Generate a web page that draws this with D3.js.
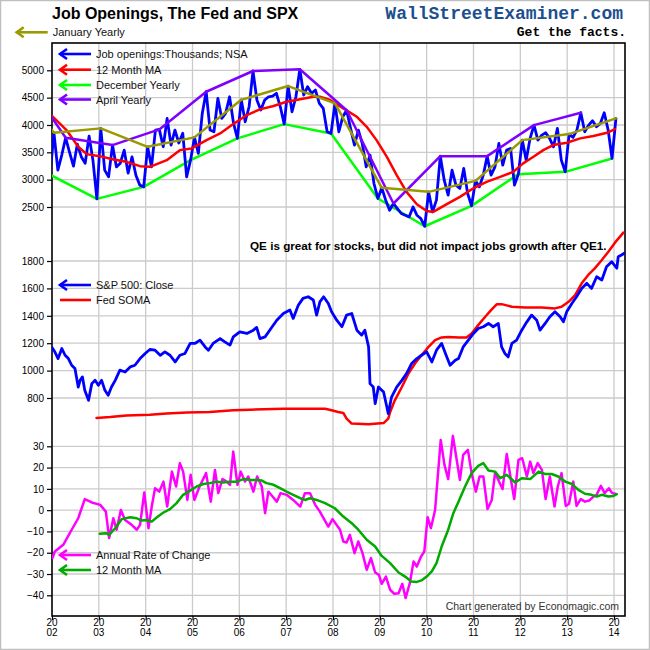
<!DOCTYPE html>
<html><head><meta charset="utf-8">
<script src="https://cdn.jsdelivr.net/npm/d3@7"></script>
<style>body{margin:0;background:#fff}svg{display:block}</style>
</head><body>
<svg id="c" width="650" height="650"></svg>
<script>
// ---------- DATA ----------
// Job openings, NSA, monthly starting Dec 2001
const jobStartYear = 2001, jobStartMonth = 12;
const jobOpenings = [3090,
 3857,3175,3450,3766,3500,3247,3650,3420,3300,3797,3350,2648,
 3938,3175,3051,3632,3234,3302,3540,3120,3418,3082,2900,2868,
 3601,3234,3907,3919,3601,4121,3632,3907,3670,3850,3051,3357,
 3773,3480,4212,4608,3907,3876,4487,4121,4218,4516,4035,3755,
 4460,4059,4333,4987,4456,4273,4456,4516,4529,4579,4333,4016,
 4712,4242,4516,5018,4548,4700,4579,4639,4396,4304,3876,3846,
 4396,3876,4150,4270,3938,3632,3907,3663,3234,3449,2930,2656,
 2850,2625,2441,2564,2472,2381,2350,2319,2502,2350,2289,2148,
 2777,2411,2625,3430,2991,2716,3175,2900,2839,3206,2747,2520,
 2978,2868,3082,3430,3082,3234,3663,3265,3540,3571,2900,3101,
 3723,3357,3755,3998,3723,3815,3857,3755,3601,3938,3357,3143,
 3833,3773,3907,4224,3876,3998,4077,3967,4029,4224,3907,3388,
 4121];
// 12 month MA (as read)
const maDates = [2001.96,2002.31,2002.56,2002.74,2003.02,2003.31,2003.59,2003.88,2004.09,2004.45,2004.73,2004.98,2005.30,2005.59,2005.87,2006.16,2006.44,2006.73,2007.01,2007.30,2007.58,2007.72,2007.94,2008.22,2008.51,2008.72,2008.93,2009.15,2009.36,2009.57,2009.79,2010.00,2010.14,2010.43,2010.71,2010.99,2011.28,2011.57,2011.85,2012.06,2012.28,2012.49,2012.70,2012.99,2013.28,2013.56,2013.85,2014.02];
const maValues = [4200,3907,3601,3467,3430,3370,3326,3247,3234,3357,3540,3571,3723,3846,4016,4181,4286,4346,4425,4469,4516,4516,4456,4304,4150,3967,3723,3418,3082,2777,2551,2428,2410,2551,2685,2839,2960,3051,3143,3297,3418,3540,3632,3674,3755,3797,3857,3925];
// Yearly series
const janYears = [2001,2002,2003,2004,2005,2006,2007,2008,2009,2010,2011,2012,2013,2014];
const janValues = [5030,3857,3938,3601,3773,4460,4712,4396,2850,2777,2978,3723,3833,4121];
const aprYears = [2001,2002,2003,2004,2005,2006,2007,2008,2009,2010,2011,2012,2013];
const aprValues = [5020,3766,3632,3919,4608,4987,5018,4270,2564,3430,3430,3998,4224];
const decYears = [2001,2002,2003,2004,2005,2006,2007,2008,2009,2010,2011,2012,2013];
const decValues = [3090,2648,2868,3357,3755,4016,3846,2656,2148,2520,3101,3143,3388];

// S&P 500 close
const spxDates = [2002.00,2002.06,2002.13,2002.21,2002.28,2002.35,2002.42,2002.49,2002.56,2002.60,2002.65,2002.70,2002.78,2002.85,2002.92,2002.99,2003.06,2003.13,2003.20,2003.27,2003.35,2003.45,2003.56,2003.67,2003.77,2003.88,2003.99,2004.09,2004.20,2004.31,2004.41,2004.52,2004.63,2004.73,2004.84,2004.95,2005.05,2005.16,2005.27,2005.34,2005.44,2005.59,2005.69,2005.80,2005.87,2006.01,2006.16,2006.30,2006.37,2006.44,2006.55,2006.66,2006.80,2006.94,2007.08,2007.15,2007.26,2007.36,2007.47,2007.58,2007.65,2007.72,2007.80,2007.90,2007.97,2008.08,2008.19,2008.29,2008.40,2008.51,2008.61,2008.68,2008.76,2008.79,2008.86,2008.90,2008.97,2009.08,2009.15,2009.18,2009.25,2009.36,2009.47,2009.57,2009.68,2009.79,2009.89,2010.00,2010.11,2010.21,2010.32,2010.43,2010.50,2010.61,2010.68,2010.78,2010.89,2011.00,2011.10,2011.21,2011.32,2011.42,2011.53,2011.60,2011.67,2011.74,2011.82,2011.92,2012.03,2012.14,2012.24,2012.35,2012.42,2012.53,2012.63,2012.74,2012.85,2012.92,2012.99,2013.10,2013.20,2013.31,2013.42,2013.52,2013.63,2013.74,2013.84,2013.95,2014.06,2014.09,2014.16,2014.22];
const spxValues = [1169,1137,1088,1161,1112,1088,1039,1015,880,929,954,856,783,905,929,893,929,856,820,880,929,1003,990,1027,1039,1088,1125,1154,1149,1112,1137,1112,1063,1112,1125,1198,1198,1222,1173,1149,1198,1234,1210,1186,1246,1283,1271,1295,1315,1234,1246,1300,1368,1417,1442,1381,1478,1527,1539,1515,1405,1502,1539,1490,1429,1368,1320,1405,1417,1295,1259,1295,1173,905,880,759,880,844,734,686,807,880,929,978,1052,1088,1112,1137,1063,1149,1198,1100,1039,1076,1088,1173,1222,1271,1307,1320,1344,1320,1344,1173,1125,1100,1198,1222,1295,1356,1405,1368,1295,1344,1393,1429,1393,1356,1429,1490,1539,1600,1637,1600,1685,1661,1758,1795,1747,1831,1844,1856];
// Fed SOMA (plotted on the S&P axis)
const somaDates = [2002.95,2003.24,2003.59,2004.09,2004.45,2004.88,2005.37,2005.87,2006.23,2006.94,2007.83,2007.97,2008.11,2008.22,2008.29,2008.40,2008.76,2009.08,2009.18,2009.22,2009.32,2009.47,2009.61,2009.75,2009.89,2010.04,2010.18,2010.32,2010.46,2010.68,2010.85,2010.96,2011.10,2011.25,2011.39,2011.50,2011.60,2011.82,2012.10,2012.46,2012.74,2012.88,2013.03,2013.17,2013.31,2013.45,2013.59,2013.74,2013.88,2014.02,2014.20];
const somaValues = [654,661,673,678,686,695,698,710,715,722,722,710,698,691,649,613,608,617,649,698,783,880,978,1052,1112,1173,1222,1242,1246,1242,1242,1271,1332,1393,1447,1485,1485,1466,1461,1461,1454,1466,1502,1551,1637,1698,1746,1807,1868,1934,2007];

// Annual rate of change (%)
const rocDates = [2002.01,2002.06,2002.24,2002.42,2002.56,2002.70,2002.85,2003.03,2003.15,2003.22,2003.31,2003.38,2003.47,2003.56,2003.70,2003.81,2003.88,2003.97,2004.06,2004.13,2004.20,2004.29,2004.38,2004.46,2004.56,2004.65,2004.73,2004.80,2004.89,2004.96,2005.04,2005.15,2005.29,2005.39,2005.48,2005.55,2005.64,2005.73,2005.80,2005.87,2005.96,2006.03,2006.12,2006.19,2006.30,2006.38,2006.48,2006.55,2006.62,2006.71,2006.80,2006.88,2007.01,2007.15,2007.30,2007.40,2007.51,2007.62,2007.72,2007.83,2007.90,2007.99,2008.15,2008.22,2008.29,2008.36,2008.46,2008.54,2008.63,2008.72,2008.81,2008.90,2008.98,2009.04,2009.13,2009.22,2009.31,2009.40,2009.48,2009.55,2009.64,2009.72,2009.79,2009.88,2009.95,2010.02,2010.09,2010.18,2010.30,2010.38,2010.46,2010.56,2010.63,2010.71,2010.78,2010.88,2010.96,2011.05,2011.13,2011.21,2011.30,2011.39,2011.46,2011.53,2011.62,2011.71,2011.80,2011.87,2011.96,2012.04,2012.14,2012.21,2012.28,2012.37,2012.46,2012.54,2012.63,2012.73,2012.80,2012.88,2012.97,2013.04,2013.13,2013.20,2013.29,2013.38,2013.47,2013.56,2013.63,2013.72,2013.80,2013.89,2013.96,2014.03];
const rocValues = [-22.5,-19.4,-16.3,-9.2,-3.8,5.2,3.6,2.5,-0.7,-13.1,-3.8,-9.2,0.1,-4.6,-6.9,-9.2,-6.9,8.3,-8.5,1.7,10.3,8.7,13.4,1.7,18.1,11.1,22.1,18.1,4.8,16.6,4.8,11.1,17.4,4.0,18.9,8.0,14.6,13.4,11.9,27.5,11.9,18.1,13.4,15.8,8.7,15.8,11.1,-1.4,8.7,6.4,4.0,8.0,7.2,4.8,1.7,8.0,8.0,2.5,-0.7,-5.0,-7.7,-4.2,-9.2,-14.7,-15.2,-11.6,-20.2,-14.7,-20.2,-28.0,-22.5,-29.3,-30.4,-34.6,-31.2,-37.4,-39.3,-39.0,-34.6,-41.3,-34.3,-24.1,-26.5,-21.8,-19.4,-3.3,-8.5,0.1,33.0,21.3,14.6,34.9,25.2,14.2,26.0,28.3,17.4,8.7,15.8,15.8,0.5,4.8,17.4,14.2,9.9,26.4,14.2,5.2,23.6,24.4,15.8,22.8,17.4,22.1,18.9,5.2,15.8,1.7,11.1,17.4,2.0,3.0,13.4,2.0,5.2,4.0,4.5,6.4,7.2,11.4,8.0,10.3,8.0,7.7];
// 12 month MA of the rate of change
const rocMaDates = [2003.02,2003.15,2003.22,2003.35,2003.49,2003.67,2003.81,2003.91,2004.02,2004.13,2004.24,2004.38,2004.52,2004.66,2004.80,2004.95,2005.09,2005.23,2005.37,2005.52,2005.66,2005.80,2005.94,2006.09,2006.23,2006.37,2006.48,2006.58,2006.73,2006.87,2007.01,2007.15,2007.30,2007.40,2007.51,2007.65,2007.83,2008.04,2008.22,2008.40,2008.54,2008.72,2008.90,2009.04,2009.22,2009.40,2009.54,2009.67,2009.79,2009.89,2010.00,2010.11,2010.21,2010.32,2010.46,2010.57,2010.68,2010.82,2010.96,2011.10,2011.21,2011.32,2011.46,2011.57,2011.71,2011.89,2012.03,2012.21,2012.39,2012.53,2012.67,2012.81,2012.96,2013.10,2013.24,2013.38,2013.52,2013.63,2013.74,2013.88,2013.99,2014.06];
const rocMaValues = [-11.1,-10.8,-11.6,-8.5,-4.2,-3.3,-3.8,-4.9,-4.6,-5.4,-3.3,-1.1,0.5,3.3,7.2,9.2,11.1,12.3,12.7,13.4,13.0,13.4,13.4,14.6,14.2,14.2,13.9,12.7,11.9,10.3,8.7,7.2,5.6,4.8,5.6,4.8,3.3,0.9,-3.0,-6.1,-9.2,-13.9,-17.1,-21.5,-24.9,-29.3,-31.2,-33.5,-33.7,-33.0,-31.2,-28.8,-24.9,-17.1,-9.2,-1.4,4.0,11.1,17.4,20.8,22.1,18.6,18.1,15.0,16.6,13.0,15.0,14.6,18.1,17.0,17.0,15.8,13.4,12.3,9.5,7.7,7.2,6.4,7.2,6.4,6.7,7.5];

// Ticks
const yearTicks = [2002,2003,2004,2005,2006,2007,2008,2009,2010,2011,2012,2013,2014];
const topTicks = [2500,3000,3500,4000,4500,5000];
const midTicks = [800,1000,1200,1400,1600,1800];
const botTicks = [-40,-30,-20,-10,0,10,20,30];

// ---------- DRAW ----------
const FONT = "'Liberation Sans', Arial, sans-serif";
const svg = d3.select("#c");
const L = 52, R = 625, T = 43, B = 616;

const x = d3.scaleLinear().domain([2002, 2014]).range([52, 614]);
const yTop = d3.scaleLinear().domain([2500, 5000]).range([207, 70.3]);
const yMid = d3.scaleLinear().domain([800, 1800]).range([398, 261]);
const yBot = d3.scaleLinear().domain([-40, 30]).range([595.3, 446.3]);

svg.append("rect").attr("x",0.5).attr("y",0.5).attr("width",649).attr("height",649)
  .attr("fill","#fff").attr("stroke","#c0c0c0").attr("stroke-width",1.5);

svg.append("defs").append("clipPath").attr("id","plot")
  .append("rect").attr("x",L).attr("y",T).attr("width",R-L).attr("height",B-T);

// grid
const grid = svg.append("g").attr("stroke","#cbcbcb").attr("stroke-width",1.3);
yearTicks.slice(1).forEach(t => grid.append("line").attr("x1",x(t)).attr("x2",x(t)).attr("y1",T).attr("y2",B));
topTicks.forEach(v => grid.append("line").attr("x1",L).attr("x2",R).attr("y1",yTop(v)).attr("y2",yTop(v)));
midTicks.forEach(v => grid.append("line").attr("x1",L).attr("x2",R).attr("y1",yMid(v)).attr("y2",yMid(v)));
botTicks.forEach(v => grid.append("line").attr("x1",L).attr("x2",R).attr("y1",yBot(v)).attr("y2",yBot(v)));

// axes (left)
function leftAxis(scale, ticks) {
  const g = svg.append("g").attr("transform",`translate(${L},0)`)
    .call(d3.axisLeft(scale).tickValues(ticks).tickSize(5).tickPadding(3).tickFormat(d3.format("d")));
  g.select(".domain").remove();
  g.selectAll("line").attr("stroke","#000").attr("stroke-width",1.2);
  g.selectAll("text").attr("font-family",FONT).attr("font-size",10).attr("fill","#000");
}
leftAxis(yTop, topTicks);
leftAxis(yMid, midTicks);
leftAxis(yBot, botTicks);

// bottom axis
const xa = svg.append("g").attr("transform",`translate(0,${B})`)
  .call(d3.axisBottom(x).tickValues(yearTicks).tickSize(4).tickFormat(""));
xa.select(".domain").remove();
xa.selectAll("line").attr("stroke","#000").attr("stroke-width",1.2);
yearTicks.forEach(t => {
  const s = String(t);
  const tx = svg.append("text").attr("x",x(t)).attr("text-anchor","middle")
    .attr("font-family",FONT).attr("font-size",10).attr("fill","#000");
  tx.append("tspan").attr("x",x(t)).attr("y",626).text(s.slice(0,2));
  tx.append("tspan").attr("x",x(t)).attr("y",636).text(s.slice(2));
});

// frame
svg.append("rect").attr("x",L).attr("y",T).attr("width",R-L).attr("height",B-T)
  .attr("fill","none").attr("stroke","#000").attr("stroke-width",1.6);

const plot = svg.append("g").attr("clip-path","url(#plot)");
function drawLine(xs, ys, yScale, color, w) {
  const pts = xs.map((t,i)=>[t, ys[i]]);
  plot.append("path").datum(pts)
    .attr("d", d3.line().x(d=>x(d[0])).y(d=>yScale(d[1])))
    .attr("fill","none").attr("stroke",color).attr("stroke-width",w)
    .attr("stroke-linejoin","round").attr("stroke-linecap","round");
}

// top panel
const jobDates = jobOpenings.map((v,i)=>{
  const m = jobStartMonth - 1 + i;
  return jobStartYear + Math.floor(m/12) + ((m%12)+0.5)/12;
});
drawLine(decYears.map(y=>y+11.5/12), decValues, yTop, "#00ff00", 2.5);
drawLine(jobDates, jobOpenings, yTop, "#0000ff", 2.8);
drawLine(maDates, maValues, yTop, "#ff0000", 2.5);
drawLine(aprYears.map(y=>y+3.5/12), aprValues, yTop, "#8000ff", 2.5);
drawLine(janYears.map(y=>y+0.5/12), janValues, yTop, "#999900", 2.5);

// middle panel
drawLine(somaDates, somaValues, yMid, "#ff0000", 2.5);
drawLine(spxDates, spxValues, yMid, "#0000ff", 2.8);

// bottom panel
drawLine(rocDates, rocValues, yBot, "#ff00ff", 2.5);
drawLine(rocMaDates, rocMaValues, yBot, "#00aa00", 2.5);

// legends
function legendItem(xs, y, color, label, head) {
  const g = svg.append("g");
  g.append("line").attr("x1",xs).attr("x2",xs+31).attr("y1",y).attr("y2",y)
    .attr("stroke",color).attr("stroke-width",2.6);
  if (head) g.append("path").attr("d",`M${xs+7},${y-5}L${xs},${y}L${xs+7},${y+5}`)
    .attr("fill","none").attr("stroke",color).attr("stroke-width",2.6)
    .attr("stroke-linejoin","miter");
  g.append("text").attr("x",xs+36).attr("y",y+4).attr("font-family",FONT)
    .attr("font-size",11).attr("fill","#111").text(label);
}
legendItem(16.7, 32.3, "#999900", "January Yearly", true);
legendItem(60, 54, "#0000ff", "Job openings:Thousands; NSA", true);
legendItem(60, 69.7, "#ff0000", "12 Month MA", true);
legendItem(60, 85, "#00ff00", "December Yearly", true);
legendItem(60, 99.5, "#8000ff", "April Yearly", true);
legendItem(60, 285, "#0000ff", "S&P 500: Close", true);
legendItem(60, 300, "#ff0000", "Fed SOMA", false);
legendItem(60, 555, "#ff00ff", "Annual Rate of Change", true);
legendItem(60, 570, "#00aa00", "12 Month MA", true);

// titles and notes
svg.append("text").attr("x",52).attr("y",19).attr("font-family",FONT)
  .attr("font-size",16).attr("font-weight","bold").attr("fill","#000")
  .text("Job Openings, The Fed and SPX");
svg.append("text").attr("x",623).attr("y",18.5).attr("text-anchor","end")
  .attr("font-family","'Liberation Mono','Courier New',monospace").attr("font-size",18)
  .attr("font-weight","bold").attr("fill","#1c4f8f").text("WallStreetExaminer.com");
svg.append("text").attr("x",626).attr("y",36).attr("text-anchor","end")
  .attr("font-family","'Liberation Mono','Courier New',monospace").attr("font-size",13)
  .attr("font-weight","bold").attr("fill","#000").text("Get the facts.");
svg.append("text").attr("x",250).attr("y",249.5).attr("font-family",FONT)
  .attr("font-size",11.7).attr("font-weight","bold").attr("fill","#000")
  .text("QE is great for stocks, but did not impact jobs growth after QE1.");
svg.append("text").attr("x",619).attr("y",610).attr("text-anchor","end")
  .attr("font-family",FONT).attr("font-size",10.5).attr("fill","#333")
  .text("Chart generated by Economagic.com");
</script>
</body></html>
